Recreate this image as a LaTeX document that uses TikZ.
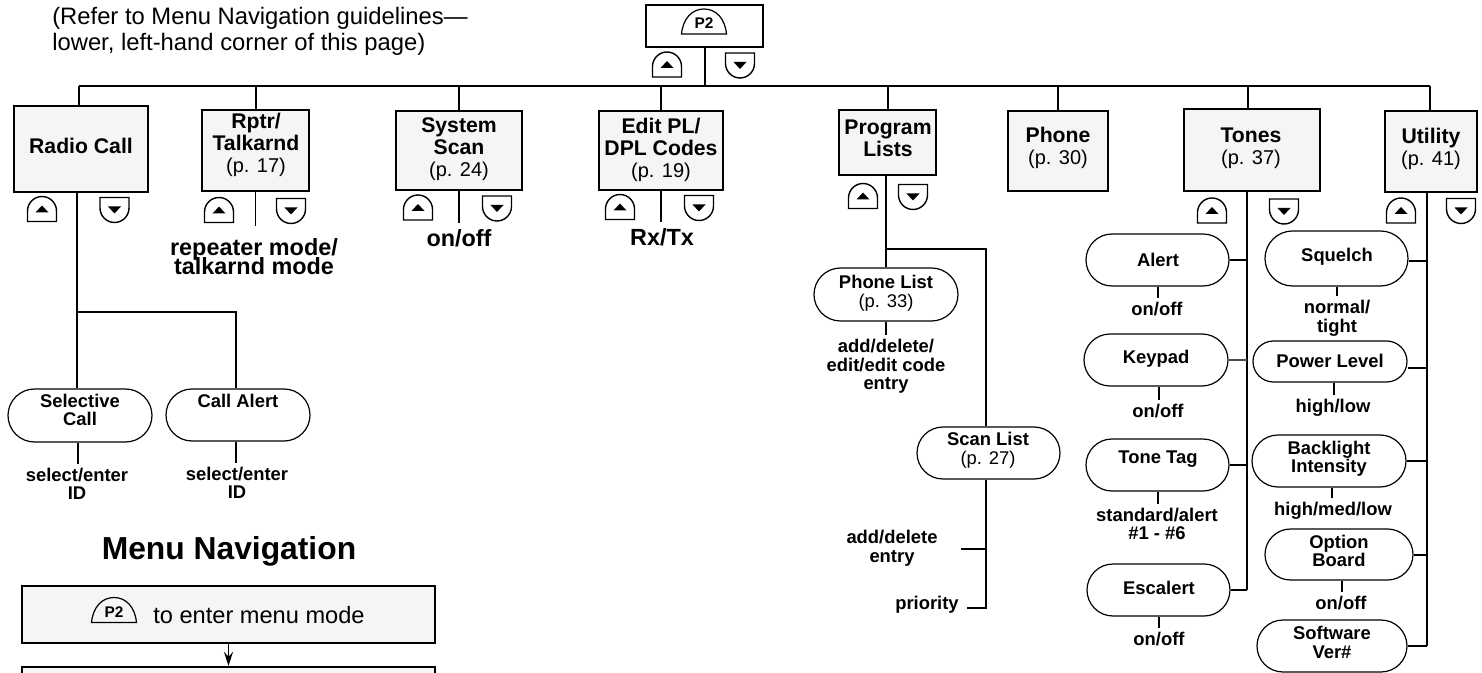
\documentclass[tikz,border=0pt]{standalone}
\usepackage{fontspec}
\setmainfont{Liberation Sans}
\usetikzlibrary{shapes.misc,arrows.meta}
\newcommand{\boxhead}[1]{{\fontsize{10.6}{11}\bfseries\selectfont #1}}
\newcommand{\tightlines}{\setlength{\lineskiplimit}{-10pt}}
\tikzset{x=0.5pt,y=-0.5pt,
    boxsize/.style 2 args={minimum width=#1*0.5pt,minimum height=#2*0.5pt},
    menubox/.style={draw,line width=1pt,fill=black!4,inner sep=0pt},
    pillbox/.style={draw,rounded rectangle,line width=0.6pt,inner sep=0pt},
    boxtext/.style={align=center,inner sep=0pt,font=\fontsize{10}{11}\selectfont},
    pilltext/.style={align=center,inner sep=0pt,font=\fontsize{9.2}{9.5}\selectfont},
    pillhead/.style={align=center,inner sep=0pt,font=\fontsize{9.2}{9.25}\bfseries\selectfont},
    valtext/.style={align=center,inner sep=2pt,font=\fontsize{9.2}{9.25}\bfseries\selectfont},
    bigval/.style={align=center,inner sep=3pt,font=\fontsize{11.7}{9.75}\bfseries\selectfont\tightlines},
    conn/.style={line width=1pt},
    thinconn/.style={line width=0.6pt},
    upkey/.pic={
        \draw[line width=0.7pt] (-14.5,12.5) -- (-14.5,2) .. controls (-14.5,-6) and (-8,-12.5) .. (0,-12.5)
            .. controls (8,-12.5) and (14.5,-6) .. (14.5,2) -- (14.5,12.5) -- cycle;
        \fill (-6.5,3.5) -- (6.5,3.5) -- (0,-3.5) -- cycle;
    },
    downkey/.pic={
        \draw[line width=0.7pt] (-14.5,-12.5) -- (-14.5,-2) .. controls (-14.5,6) and (-8,12.5) .. (0,12.5)
            .. controls (8,12.5) and (14.5,6) .. (14.5,-2) -- (14.5,-12.5) -- cycle;
        \fill (-6.5,-3.5) -- (6.5,-3.5) -- (0,3.5) -- cycle;
    },
    ptwokey/.pic={
        \draw[line width=0.6pt] (-22.5,12.5) .. controls (-21,-3) and (-12,-12.5) .. (0,-12.5)
            .. controls (12,-12.5) and (21,-3) .. (22.5,12.5) -- cycle;
        \node[inner sep=0pt,font=\fontsize{7.7}{8}\bfseries\selectfont] (-label) at (0,2) {P2};
    },
}
\begin{document}
\begin{tikzpicture}
	\useasboundingbox (0,0) rectangle (1482,673);
	%top of the menu
	\node[draw,line width=1pt,inner sep=0pt,boxsize={117}{42}] (topbox) at (704.5,26) {};
	\pic (topkey) at (704,21.5) {ptwokey};
	\node[align=left,inner sep=0pt,font=\fontsize{11.9}{13}\selectfont] (refertext) at (260,31)
		{(Refer to Menu Navigation guidelines—\\lower, left-hand corner of this page)};
	%first level boxes
	\node[menubox,boxsize={134}{86}] (radiocall) at (81,149) {};
	\node[menubox,boxsize={107}{81}] (rptr) at (255.5,150.5) {};
	\node[menubox,boxsize={126}{79}] (systemscan) at (459,150.5) {};
	\node[menubox,boxsize={124}{79}] (editpl) at (661,150.5) {};
	\node[menubox,boxsize={97}{65}] (programlists) at (887.5,142.5) {};
	\node[menubox,boxsize={100}{80}] (phone) at (1058,151) {};
	\node[menubox,boxsize={136}{82}] (tones) at (1252,150) {};
	\node[menubox,boxsize={92}{81}] (utility) at (1431,151.5) {};
	\node[boxtext] (radiocalltext) at (81,146) {\boxhead{Radio Call}};
	\node[boxtext] (rptrtext) at (256,145) {\boxhead{Rptr/}\\\boxhead{Talkarnd}\\(p. 17)};
	\node[boxtext] (systemscantext) at (459,149.5) {\boxhead{System}\\\boxhead{Scan}\\(p. 24)};
	\node[boxtext] (editpltext) at (661,149.5) {\boxhead{Edit PL/}\\\boxhead{DPL Codes}\\(p. 19)};
	\node[boxtext] (programliststext) at (888,138) {\boxhead{Program}\\\boxhead{Lists}};
	\node[boxtext] (phonetext) at (1058,148) {\boxhead{Phone}\\(p. 30)};
	\node[boxtext] (tonestext) at (1251,148.5) {\boxhead{Tones}\\(p. 37)};
	\node[boxtext] (utilitytext) at (1431,148.5) {\boxhead{Utility}\\(p. 41)};
	%keys
	\foreach \kx/\ky in {667/64.5,42/209,219/210,418/207.5,620/207,863/196,1212/210.5,1401/210.5}
		\pic at (\kx,\ky) {upkey};
	\foreach \kx/\ky in {740/65.5,114.5/210,291/211,497/208.5,699/208,913/197,1284/211.5,1461/211}
		\pic at (\kx,\ky) {downkey};
	%radio call branch
	\node[pillbox,boxsize={144}{53}] (selective) at (80,415.5) {};
	\node[pillbox,boxsize={144}{52}] (callalert) at (238,415) {};
	\node[pillhead] (selectivetext) at (80,410) {Selective\\Call};
	\node[pillhead] (callalerttext) at (238,401) {Call Alert};
	\node[valtext] (selectiveval) at (77,484) {select/enter\\ID};
	\node[valtext] (callalertval) at (237,483) {select/enter\\ID};
	\node[bigval] (rptrval) at (254,256.5) {repeater mode/\\talkarnd mode};
	\node[bigval] (systemval) at (459,238) {on/off};
	\node[bigval] (editval) at (662,237) {Rx/Tx};
	%program lists branch
	\node[pillbox,boxsize={144}{53}] (phonelist) at (886,294.5) {};
	\node[pillbox,boxsize={143}{52}] (scanlist) at (988.5,453) {};
	\node[pilltext] (phonelisttext) at (886,293.5) {\textbf{Phone List}\\(p. 33)};
	\node[pilltext] (scanlisttext) at (988,450.5) {\textbf{Scan List}\\(p. 27)};
	\node[valtext] (phonelistval) at (886,366.5) {add/delete/\\edit/edit code\\entry};
	\node[valtext] (scanaddval) at (892,548) {add/delete\\entry};
	\node[valtext] (priorityval) at (927,605) {priority};
	%tones branch
	\node[pillbox,boxsize={143}{52}] (alert) at (1157.5,260) {};
	\node[pillbox,boxsize={144}{52}] (keypad) at (1156,360) {};
	\node[pillbox,boxsize={143}{52}] (tonetag) at (1157.5,465) {};
	\node[pillbox,boxsize={143}{52}] (escalert) at (1158.5,590) {};
	\foreach \pname/\px/\py/\ptext in {alert/1158/260/Alert,keypad/1156/359/Keypad,tonetag/1158/459/Tone Tag,escalert/1159/588/Escalert}
		\node[pillhead] (\pname text) at (\px,\py) {\ptext};
	\node[valtext] (alertval) at (1157,309) {on/off};
	\node[valtext] (keypadval) at (1158,411) {on/off};
	\node[valtext] (tonetagval) at (1157,524) {standard/alert\\\#1 - \#6};
	\node[valtext] (escalertval) at (1159,639) {on/off};
	%utility branch
	\node[pillbox,boxsize={143}{55}] (squelch) at (1336.5,258.5) {};
	\node[pillbox,boxsize={154}{41}] (powerlevel) at (1330,361.5) {};
	\node[pillbox,boxsize={154}{52}] (backlight) at (1329,461) {};
	\node[pillbox,boxsize={148}{51}] (optionboard) at (1339,554.5) {};
	\node[pillbox,boxsize={150}{52}] (software) at (1332,646) {};
	\foreach \pname/\px/\py/\ptext in {squelch/1337/256.5/Squelch,powerlevel/1330/361/Power Level,backlight/1329/458.5/Backlight\\Intensity,optionboard/1339/551/Option\\Board,software/1332/642.5/Software\\Ver\#}
		\node[pillhead] (\pname text) at (\px,\py) {\ptext};
	\node[valtext] (squelchval) at (1337,318.5) {normal/\\tight};
	\node[valtext] (powerlevelval) at (1333,408) {high/low};
	\node[valtext] (backlightval) at (1333,511) {high/med/low};
	\node[valtext] (optionboardval) at (1341,603) {on/off};
	%menu navigation
	\node[inner sep=0pt,font=\fontsize{15.9}{16}\bfseries\selectfont] (navtitle) at (229,551) {Menu Navigation};
	\node[menubox,boxsize={413}{57}] (naventer) at (228.5,614.5) {};
	\pic (navkey) at (114,610) {ptwokey};
	\node[inner sep=0pt,font=\fontsize{11.8}{12}\selectfont] (naventertext) at (259,615) {to enter menu mode};
	\begin{scope}
		\clip (0,0) rectangle (1482,673);
		\node[menubox,boxsize={413}{40}] (navnext) at (228.5,687) {};
	\end{scope}
	\draw[line width=0.6pt,-{Stealth[length=7pt,width=4.5pt]}] (naventer.south) -- (navnext.north);
	%trunk
	\coordinate (trunkleft) at (79,86);
	\coordinate (trunkright) at (1430,86);
	\coordinate (tonesdrop) at (1248,86);
	\draw[conn] (trunkleft) -- (trunkright);
	\draw[conn] (topbox.south) -- (topbox.south |- trunkleft);
	\draw[conn] (trunkleft) -- (trunkleft |- radiocall.north);
	\draw[conn] (rptr.north) -- (rptr.north |- trunkleft);
	\draw[conn] (systemscan.north) -- (systemscan.north |- trunkleft);
	\draw[conn] (editpl.north) -- (editpl.north |- trunkleft);
	\draw[conn] (programlists.north) -- (programlists.north |- trunkleft);
	\draw[conn] (phone.north) -- (phone.north |- trunkleft);
	\draw[conn] (tonesdrop) -- (tonesdrop |- tones.north);
	\draw[conn] (trunkright) -- (trunkright |- utility.north);
	%stems under the boxes
	\coordinate (radiostem) at (77,192);
	\coordinate (radiobranch) at (77,312);
	\coordinate (calldrop) at (236,312);
	\draw[conn] (radiostem) -- (radiostem |- selective.north);
	\draw[conn] (radiobranch) -- (calldrop) -- (calldrop |- callalert.north);
	\draw[conn] ([xshift=-1pt]selective.south) -- ([xshift=-1pt]selective.south |- selectiveval.north);
	\draw[conn] ([xshift=-1pt]callalert.south) -- ([xshift=-1pt]callalert.south |- callalertval.north);
	\draw[thinconn,shorten >=3pt] (rptr.south) -- (rptr.south |- rptrval.north);
	\draw[conn] (systemscan.south) -- (systemscan.south |- systemval.north);
	\draw[conn] (editpl.south) -- (editpl.south |- editval.north);
	\coordinate (progstem) at (886,175);
	\coordinate (progbranch) at (886,249);
	\coordinate (scanstem) at (986,249);
	\coordinate (scantick) at (961,549);
	\coordinate (prioritytick) at (967,608);
	\draw[conn] (progstem) -- (progstem |- phonelist.north);
	\draw[conn] (progbranch) -- (scanstem) -- (scanstem |- scanlist.north);
	\draw[conn] (scanstem |- scanlist.south) -- (scanstem |- prioritytick) -- (prioritytick);
	\draw[conn] (scantick) -- (scanstem |- scantick);
	\draw[conn] (phonelist.south) -- (phonelist.south |- phonelistval.north);
	%tones trunk
	\coordinate (tonesstem) at (1247,191);
	\coordinate (tonesend) at (1247,590);
	\draw[conn] (tonesstem) -- (tonesend);
	\draw[conn] (alert.east) -- (alert.east -| tonesstem);
	\draw[thinconn,black!70] (keypad.east) -- (keypad.east -| tonesstem);
	\draw[conn] (tonetag.east) -- (tonetag.east -| tonesstem);
	\draw[conn] (escalert.east) -- (escalert.east -| tonesstem);
	\draw[conn] (alert.south) -- (alert.south |- alertval.north);
	\draw[conn] ([xshift=1.5pt]keypad.south) -- ([xshift=1.5pt]keypad.south |- keypadval.north);
	\draw[conn] (tonetag.south) -- (tonetag.south |- tonetagval.north);
	\draw[conn] (escalert.south) -- (escalert.south |- escalertval.north);
	%utility trunk
	\coordinate (utilstem) at (1427,192);
	\coordinate (utilend) at (1427,646);
	\draw[conn] (utilstem) -- (utilend);
	\draw[conn] (squelch.east |- 0,261) -- (utilstem |- 0,261);
	\draw[conn] ([yshift=-3.25pt]powerlevel.east) -- ([yshift=-3.25pt]powerlevel.east -| utilstem);
	\draw[conn] (backlight.east) -- (backlight.east -| utilstem);
	\draw[conn] (optionboard.east) -- (optionboard.east -| utilstem);
	\draw[conn] (software.east) -- (software.east -| utilstem);
	\draw[conn] (squelch.south) -- (squelch.south |- squelchval.north);
	\draw[conn] ([xshift=2pt]powerlevel.south) -- ([xshift=2pt]powerlevel.south |- powerlevelval.north);
	\draw[conn] ([xshift=1.5pt]backlight.south) -- ([xshift=1.5pt]backlight.south |- backlightval.north);
	\draw[conn] ([xshift=1.5pt]optionboard.south) -- ([xshift=1.5pt]optionboard.south |- optionboardval.north);
\end{tikzpicture}
\end{document}
